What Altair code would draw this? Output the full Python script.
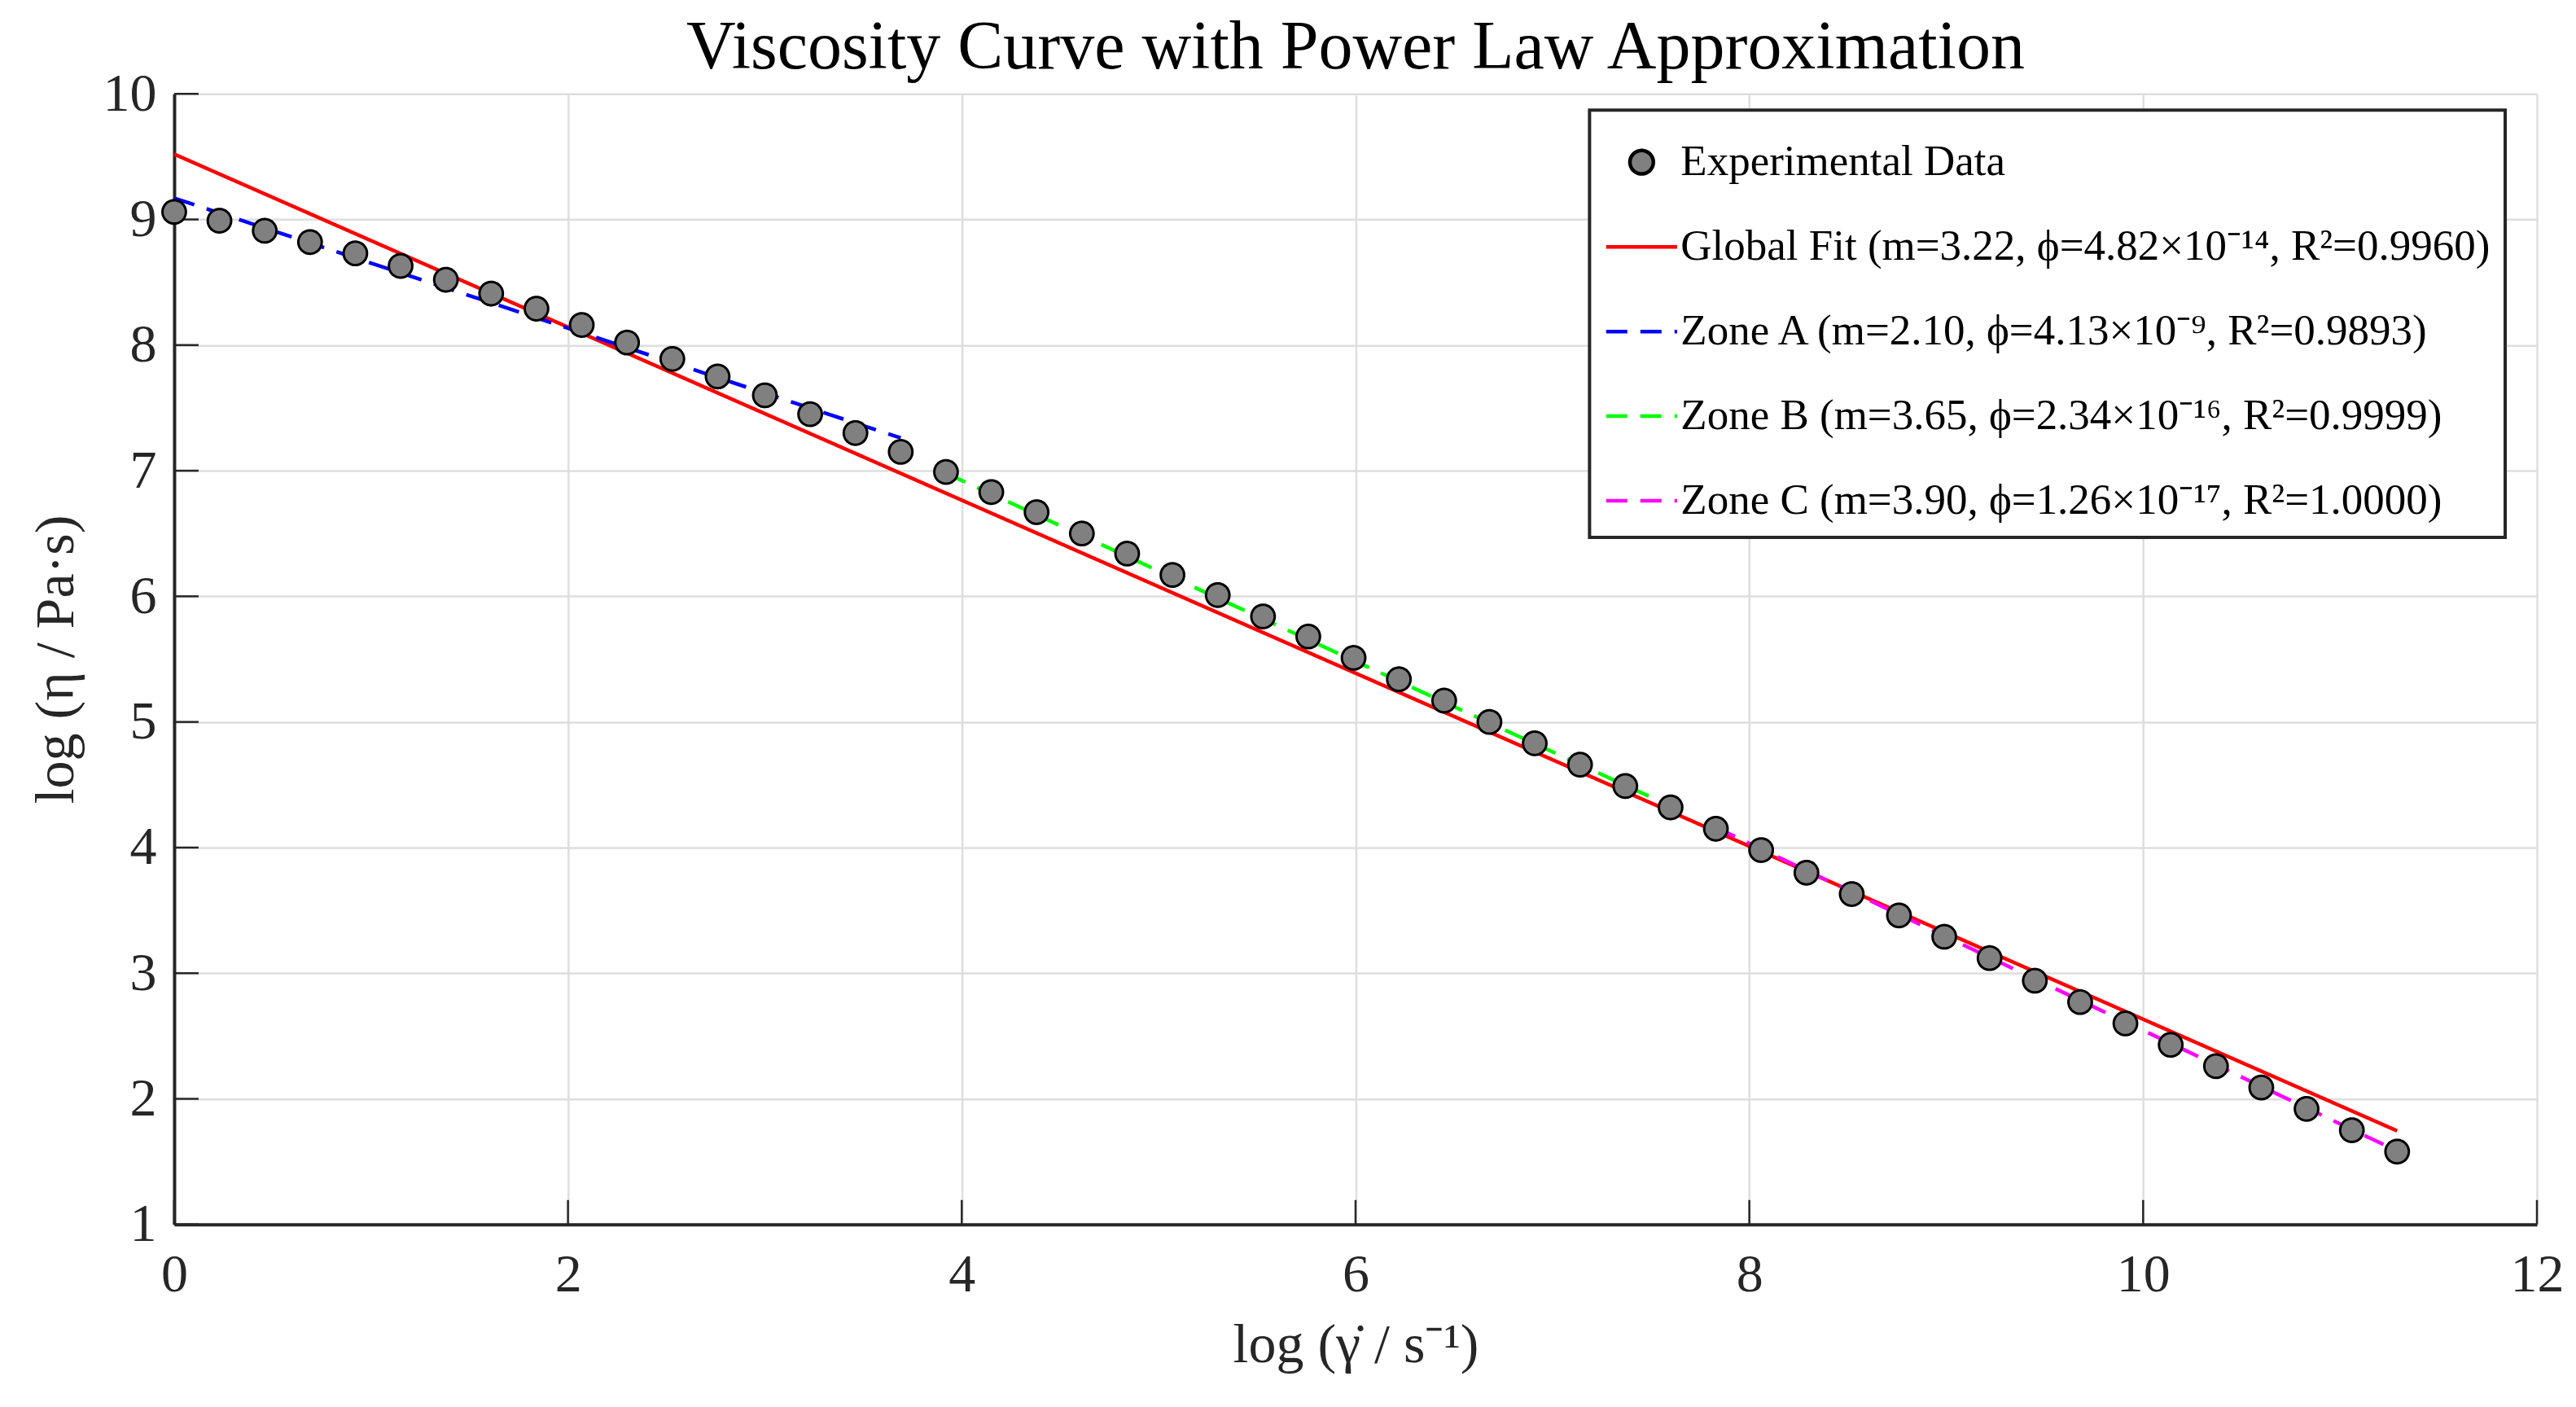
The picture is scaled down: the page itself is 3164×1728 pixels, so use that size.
import altair as alt
import pandas as pd

# ---- data ----
log_shear = [0.00, 0.23, 0.46, 0.69, 0.92, 1.15, 1.38, 1.61, 1.84, 2.07,
             2.30, 2.53, 2.76, 3.00, 3.23, 3.46, 3.69, 3.92, 4.15, 4.38,
             4.61, 4.84, 5.07, 5.30, 5.53, 5.76, 5.99, 6.22, 6.45, 6.68,
             6.91, 7.14, 7.37, 7.60, 7.83, 8.06, 8.29, 8.52, 8.76, 8.99,
             9.22, 9.45, 9.68, 9.91, 10.14, 10.37, 10.60, 10.83, 11.06, 11.29]
log_visc = [9.06, 8.99, 8.91, 8.82, 8.73, 8.63, 8.52, 8.41, 8.29, 8.16,
            8.02, 7.89, 7.75, 7.60, 7.45, 7.30, 7.15, 6.99, 6.83, 6.67,
            6.50, 6.34, 6.17, 6.01, 5.84, 5.68, 5.51, 5.34, 5.17, 5.00,
            4.83, 4.66, 4.49, 4.32, 4.15, 3.98, 3.80, 3.63, 3.46, 3.29,
            3.12, 2.94, 2.77, 2.60, 2.43, 2.26, 2.09, 1.92, 1.75, 1.58]

series_names = [
    "Experimental Data",
    "Global Fit (m=3.22, \u03d5=4.82\u00d710\u207b\u00b9\u2074, R\u00b2=0.9960)",
    "Zone A (m=2.10, \u03d5=4.13\u00d710\u207b\u2079, R\u00b2=0.9893)",
    "Zone B (m=3.65, \u03d5=2.34\u00d710\u207b\u00b9\u2076, R\u00b2=0.9999)",
    "Zone C (m=3.90, \u03d5=1.26\u00d710\u207b\u00b9\u2077, R\u00b2=1.0000)",
]
fit_x = [[0.00, 11.29], [0.00, 3.69], [3.92, 7.60], [7.83, 11.29]]
fit_y = [[9.52, 1.745], [9.17, 7.26], [6.98, 4.33], [4.16, 1.585]]

x_ticks = [0, 2, 4, 6, 8, 10, 12]
y_ticks = [1, 2, 3, 4, 5, 6, 7, 8, 9, 10]

stroke_colors = ["#000000", "#ff0000", "#0000ff", "#00ff00", "#ff00ff"]
fill_colors = ["#808080", "#ff0000", "#0000ff", "#00ff00", "#ff00ff"]
circle_path = "M0,-0.33A0.33,0.33,0,1,1,0,0.33A0.33,0.33,0,1,1,0,-0.33Z"
shapes = [circle_path, "stroke", "stroke", "stroke", "stroke"]
dashes = [[1, 0], [1, 0], [26, 16], [26, 16], [26, 16]]

pts = pd.DataFrame({"x": log_shear, "y": log_visc, "series": series_names[0]})
rows = []
for name, xs, ys in zip(series_names[1:], fit_x, fit_y):
    for xv, yv in zip(xs, ys):
        rows.append({"x": xv, "y": yv, "series": name})
fits = pd.DataFrame(rows)
xt = pd.DataFrame({"x": x_ticks})
yt = pd.DataFrame({"y": y_ticks})

FONT = "Liberation Serif"
W, H, TICK = 2903, 1389, 30

xenc = alt.X("x:Q", scale=alt.Scale(domain=[0, 12], nice=False, zero=False),
             axis=alt.Axis(values=x_ticks,
                           title="log (\u03b3\u0307 / s\u207b\u00b9)"))
yenc = alt.Y("y:Q", scale=alt.Scale(domain=[1, 10], nice=False, zero=False),
             axis=alt.Axis(values=y_ticks,
                           title="log (\u03b7 / Pa\u00b7s)"))

stroke_enc = alt.Stroke("series:N", scale=alt.Scale(domain=series_names, range=stroke_colors), title=None)
dash_enc = alt.StrokeDash("series:N", scale=alt.Scale(domain=series_names, range=dashes), title=None)
fill_enc = alt.Fill("series:N", scale=alt.Scale(domain=series_names, range=fill_colors), title=None)
shape_enc = alt.Shape("series:N", scale=alt.Scale(domain=series_names, range=shapes), title=None)

# inward tick marks (MATLAB style)
xtick_layer = alt.Chart(xt).mark_rule(color="#262626", strokeWidth=2.5).encode(
    x=xenc, y=alt.value(H), y2=alt.value(H - TICK)
)
ytick_layer = alt.Chart(yt).mark_rule(color="#262626", strokeWidth=2.5).encode(
    y=yenc, x=alt.value(0), x2=alt.value(TICK)
)

lines = alt.Chart(fits).mark_line(strokeWidth=4.5).encode(
    x=xenc, y=yenc, stroke=stroke_enc, strokeDash=dash_enc
)
points = alt.Chart(pts).mark_point(filled=True, size=7600, strokeWidth=3, opacity=1).encode(
    x=xenc, y=yenc, fill=fill_enc, stroke=stroke_enc, shape=shape_enc, strokeDash=dash_enc
)

chart = alt.layer(xtick_layer, ytick_layer, lines, points).properties(
    width=W,
    height=H,
    autosize=alt.AutoSizeParams(type="none"),
    padding={"left": 206, "top": 107, "right": 40, "bottom": 200},
    title=alt.TitleParams(
        "Viscosity Curve with Power Law Approximation",
        font=FONT, fontSize=84, fontWeight="normal", color="#000000",
        anchor="middle", frame="group", offset=0, dy=20,
    ),
).configure_view(stroke=None).configure_axis(
    labelFont=FONT, labelFontSize=66, labelColor="#262626",
    titleFont=FONT, titleFontSize=68, titleFontWeight="normal", titleColor="#262626",
    domainColor="#262626", domainWidth=4, gridColor="#dedede", gridWidth=2.5,
    ticks=False, labelFlush=False,
).configure_axisX(labelPadding=30, titlePadding=20).configure_axisY(
    labelPadding=22, titlePadding=22
).configure_legend(
    orient="none", legendX=1739, legendY=20,
    labelFont=FONT, labelFontSize=53, labelColor="#000000", labelLimit=0,
    labelOffset=2, padding=18, rowPadding=31,
    strokeColor="#262626", strokeWidth=4, fillColor="#ffffff",
    symbolSize=7600, symbolStrokeWidth=4.5, title=None,
)

chart.save("out.html", embed_options={"renderer": "svg", "actions": False})
